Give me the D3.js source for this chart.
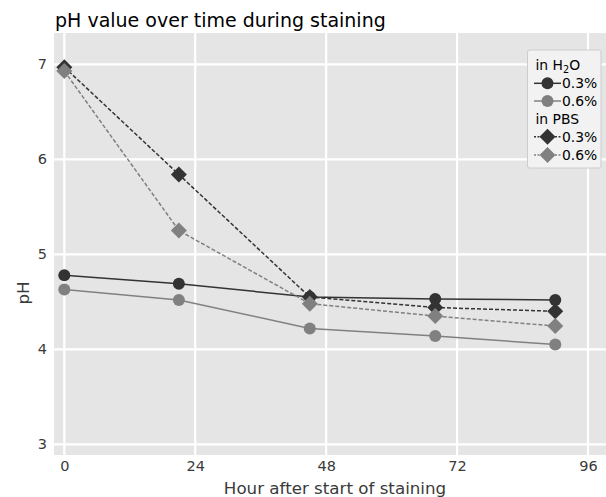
<!DOCTYPE html>
<html><head><meta charset="utf-8">
<script src="https://cdn.jsdelivr.net/npm/d3@7"></script>
<style>body{margin:0;background:#fff}svg{display:block}text{font-family:"DejaVu Sans",sans-serif}</style>
</head><body><svg id="c" width="606" height="497"></svg>
<script>
const hours = [0, 21, 45, 68, 90];
const h2o03 = [4.78, 4.69, 4.55, 4.53, 4.52];
const h2o06 = [4.63, 4.52, 4.22, 4.14, 4.05];
const pbs03 = [6.97, 5.84, 4.55, 4.44, 4.40];
const pbs06 = [6.93, 5.25, 4.48, 4.35, 4.245];
const xTicks = [0, 24, 48, 72, 96];
const yTicks = [3, 4, 5, 6, 7];
const seriesNames = ["0.3%", "0.6%", "0.3%", "0.6%"];
const groupNames = ["in H₂O", "in PBS"];

const dark = "#333333", gray = "#808080";
const series = [
  {vals: h2o03, color: dark, shape: "circle", dash: null},
  {vals: h2o06, color: gray, shape: "circle", dash: null},
  {vals: pbs03, color: dark, shape: "diamond", dash: "4,2"},
  {vals: pbs06, color: gray, shape: "diamond", dash: "4,2"}
];

const svg = d3.select("#c");
const L = 54, R = 616, T = 33, B = 455;
const x = d3.scaleLinear().domain([0, 96]).range([64.3, 588]);
const y = d3.scaleLinear().domain([3, 7]).range([444.3, 64.3]);

svg.append("rect").attr("x", L).attr("y", T).attr("width", R - L).attr("height", B - T).attr("fill", "#E5E5E5");

// grid
svg.append("g").selectAll("line").data(xTicks).join("line")
  .attr("x1", d => x(d)).attr("x2", d => x(d)).attr("y1", T).attr("y2", B)
  .attr("stroke", "#fff").attr("stroke-width", 2.2);
svg.append("g").selectAll("line").data(yTicks).join("line")
  .attr("y1", d => y(d)).attr("y2", d => y(d)).attr("x1", L).attr("x2", R)
  .attr("stroke", "#fff").attr("stroke-width", 2.2);

// axes (labels only)
const xAxis = svg.append("g").attr("transform", `translate(0,${B})`)
  .call(d3.axisBottom(x).tickValues(xTicks).tickFormat(d3.format("d")).tickSize(0).tickPadding(6));
const yAxis = svg.append("g").attr("transform", `translate(${L},0)`)
  .call(d3.axisLeft(y).tickValues(yTicks).tickFormat(d3.format("d")).tickSize(0).tickPadding(7));
[xAxis, yAxis].forEach(g => {
  g.select(".domain").remove();
  g.selectAll("text").attr("font-family", "DejaVu Sans").attr("font-size", 14.5).attr("fill", "#3a3a3a");
});

// lines and markers
const line = d3.line().x((d, i) => x(hours[i])).y(d => y(d));
const diamond = s => `M0,${-s}L${s},0L0,${s}L${-s},0Z`;
function marker(g, shape, color, cx, cy) {
  if (shape === "circle") {
    g.append("circle").attr("cx", cx).attr("cy", cy).attr("r", 6).attr("fill", color);
  } else {
    g.append("path").attr("d", diamond(8)).attr("transform", `translate(${cx},${cy})`).attr("fill", color);
  }
}
series.forEach(s => {
  const g = svg.append("g");
  g.append("path").attr("d", line(s.vals)).attr("fill", "none").attr("stroke", s.color)
    .attr("stroke-width", 1.5).attr("stroke-dasharray", s.dash);
  s.vals.forEach((v, i) => marker(g, s.shape, s.color, x(hours[i]), y(v)));
});

// title & labels
svg.append("text").attr("x", 55).attr("y", 27).attr("font-size", 19).attr("fill", "#000").text("pH value over time during staining");
svg.append("text").attr("x", 335).attr("y", 494).attr("text-anchor", "middle").attr("font-size", 16.7).attr("fill", "#3a3a3a").text("Hour after start of staining");
svg.append("text").attr("transform", "translate(29,293) rotate(-90)").attr("text-anchor", "middle").attr("font-size", 16.7).attr("fill", "#3a3a3a").text("pH");

// legend
const lg = svg.append("g");
lg.append("rect").attr("x", 527.5).attr("y", 50).attr("width", 73.5).attr("height", 118)
  .attr("fill", "#F2F2F2").attr("stroke", "#CCCCCC").attr("stroke-width", 1).attr("rx", 2);
const rows = [65, 83.3, 101, 119.3, 136.7, 155];
const h1 = lg.append("text").attr("x", 535.5).attr("y", rows[0] + 5).attr("font-size", 13.9).attr("fill", "#000");
h1.append("tspan").text("in H");
h1.append("tspan").attr("font-size", 9.7).attr("dy", 3).text("2");
h1.append("tspan").attr("dy", -3).text("O");
lg.append("text").attr("x", 535.5).attr("y", rows[3] + 5).attr("font-size", 13.9).attr("fill", "#000").text(groupNames[1]);
const entryRows = [rows[1], rows[2], rows[4], rows[5]];
series.forEach((s, i) => {
  const cy = entryRows[i];
  lg.append("line").attr("x1", 534).attr("x2", 561).attr("y1", cy).attr("y2", cy)
    .attr("stroke", s.color).attr("stroke-width", 1.5).attr("stroke-dasharray", s.dash ? "2,1.5" : null);
  marker(lg, s.shape, s.color, 547.5, cy);
  lg.append("text").attr("x", 562).attr("y", cy + 5).attr("font-size", 13.9).attr("fill", "#000").text(seriesNames[i]);
});
</script></body></html>
